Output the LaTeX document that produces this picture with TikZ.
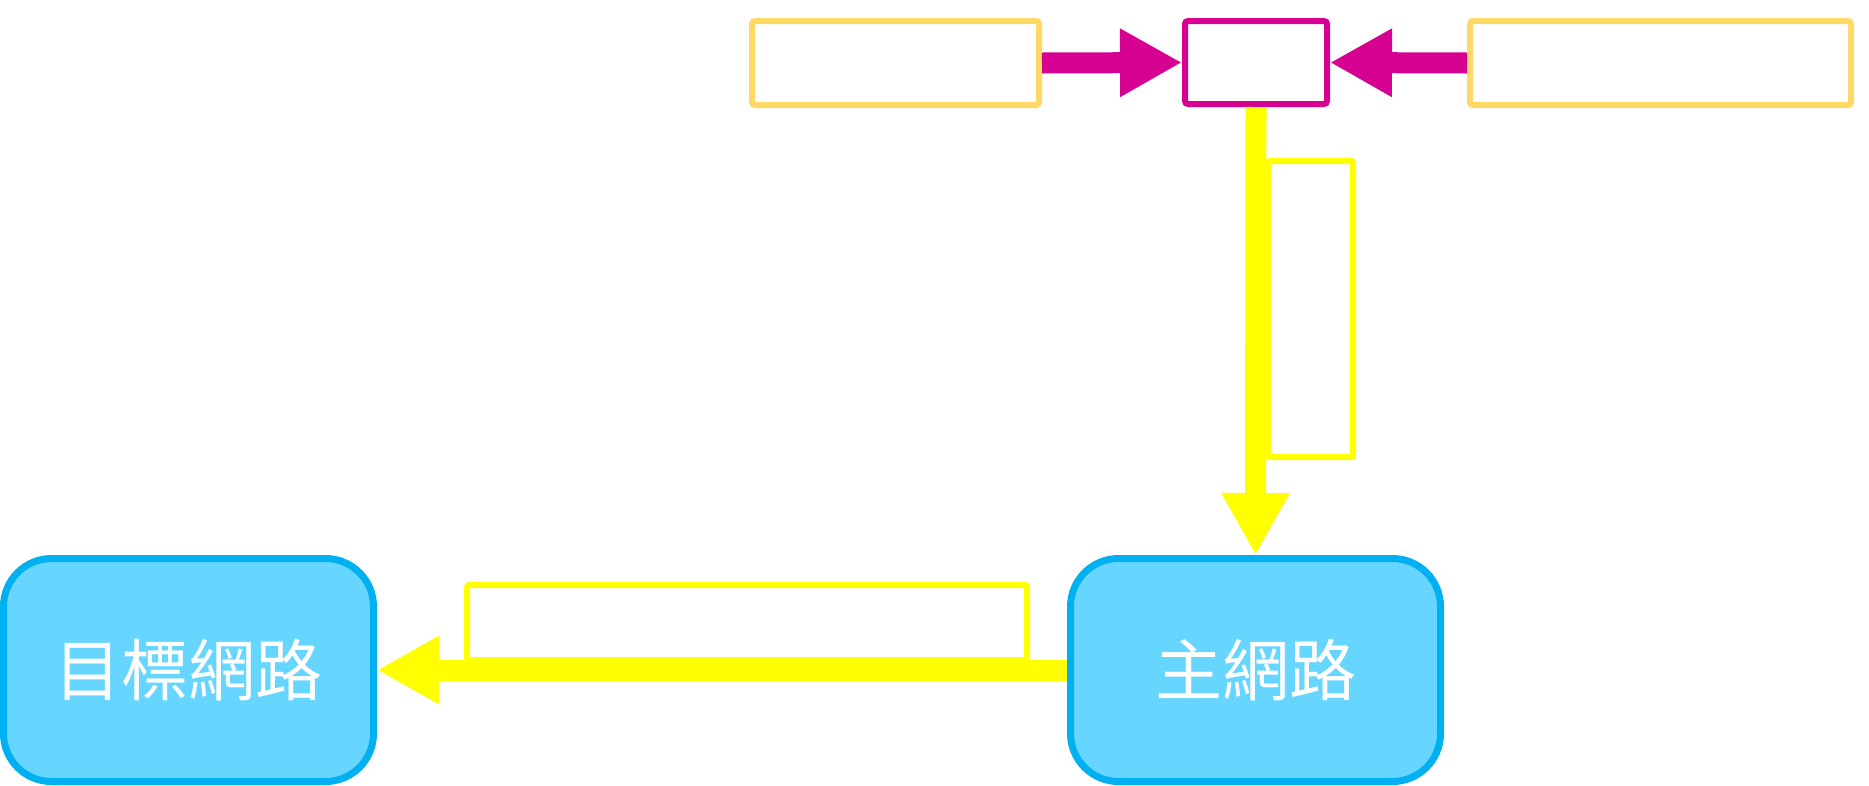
\documentclass[tikz,border=0pt]{standalone}
\usepackage{fontspec}
\newfontfamily\cjk{Noto Sans CJK TC}
\usetikzlibrary{arrows.meta}
\definecolor{mag}{HTML}{D60091}
\definecolor{gold}{HTML}{FFD966}
\definecolor{yel}{HTML}{FFFF00}
\definecolor{bstroke}{HTML}{00B0F0}
\definecolor{bfill}{HTML}{66D5FF}
\begin{document}
\begin{tikzpicture}[x=1pt,y=-1pt,
  topbox/.style={draw=gold, line width=6pt, rounded corners=3pt, minimum height=84pt, inner sep=0pt, text=white, font=\cjk\fontsize{48}{52}\selectfont},
  lossbox/.style={draw=mag, line width=6pt, rounded corners=3pt, minimum width=142pt, minimum height=83pt, inner sep=0pt, text=white, font=\cjk\fontsize{48}{52}\selectfont},
  labelbox/.style={draw=yel, line width=6pt, rounded corners=2pt, inner sep=0pt, text=white, align=center, font=\cjk\fontsize{44}{50}\selectfont},
  netbox/.style={draw=bstroke, fill=bfill, line width=7pt, rounded corners=48pt, minimum width=370pt, minimum height=223pt, inner sep=0pt, text=white, font=\cjk\fontsize{67}{70}\selectfont},
  magarrow/.style={draw=mag, line width=21pt, -{Triangle[length=62pt,width=64pt]}},
  yelarrow/.style={draw=yel, line width=21pt, -{Triangle[length=62pt,width=64pt]}}
]
\useasboundingbox (0,0) rectangle (1869,785);
% top row
\node[topbox, minimum width=287pt] (tq) at (895.5,63) {目標Q值};
\node[lossbox] (loss) at (1256,62.5) {損失};
\node[topbox, minimum width=381pt] (pq) at (1660.5,63) {預測Q值};
% networks
\node[netbox] (main) at (1255.5,670) {主網路};
\node[netbox] (target) at (188.5,670) {目標網路};
% label boxes
\node[labelbox, minimum width=85pt, minimum height=296pt] (grad) at (1310.5,309) {梯\\度\\更\\新};
\node[labelbox, minimum width=560pt, minimum height=75pt] (copy) at (747,622.5) {每隔N步複製參數};
% arrows
\draw[magarrow] (tq.east) -- (loss.west);
\draw[magarrow] (pq.west) -- (loss.east);
\draw[yelarrow] (loss.south) -- (main.north);
\draw[yelarrow] (main.west) -- (target.east);
\end{tikzpicture}
\end{document}
